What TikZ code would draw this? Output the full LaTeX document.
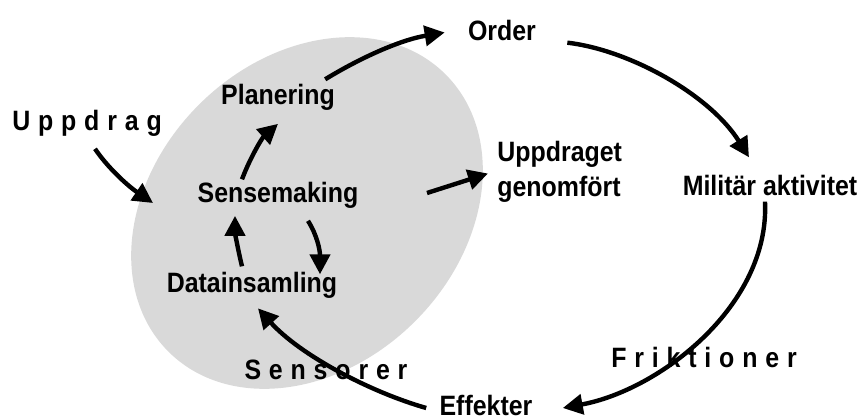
\documentclass[tikz,border=0pt]{standalone}
\usepackage{fontspec}
\setmainfont{Liberation Sans}[FakeStretch=0.89]
\newfontfamily\spacedfont{Liberation Sans}[FakeStretch=0.89,LetterSpace=28]
\usetikzlibrary{arrows.meta, shapes.geometric}
\tikzstyle{term} = [font=\fontsize{14}{17.5}\selectfont\bfseries, inner sep=0pt, anchor=base]
\tikzstyle{spacedterm} = [font=\spacedfont\fontsize{14}{17.5}\selectfont\bfseries, inner sep=0pt, anchor=base]
\tikzstyle{arrow} = [line width=2.2pt, -{Triangle[length=10pt,width=10pt]}]

\begin{document}
\begin{tikzpicture}[x=0.5pt, y=-0.5pt]
\useasboundingbox (0,0) rectangle (864,418);

% grey blob behind the inner loop
\fill[black!15] (307,213) circle[x radius=196, y radius=153, rotate=45];

\node (order) [term] at (502,40) {Order};
\node (upp) [spacedterm] at (87,130) {Uppdrag};
\node (plan) [term] at (278,104) {Planering};
\node (sense) [term] at (278,202) {Sensemaking};
\node (data) [term] at (252,292) {Datainsamling};
\node (done) [term, align=left, anchor=west] at (497,172) {Uppdraget\\genomfört};
\node (mil) [term] at (770,195) {Militär aktivitet};
\node (eff) [term] at (486,415) {Effekter};
\node (sens) [spacedterm] at (326,379) {Sensorer};
\node (frik) [spacedterm] at (704,367) {Friktioner};

\coordinate (in) at (153,203);
\coordinate (out) at (427,193);

% outer loop
\draw [arrow] ([shift={(8,12.5)}]upp.south) .. controls (108,168) and (128,186) .. (in);
\draw [arrow] ([shift={(-10,-4)}]plan.north east) .. controls (360,58) and (400,40) .. ([shift={(-23,2.5)}]order.west);
\draw [arrow] ([shift={(31,2)}]order.south east) .. controls (630,50) and (710,95) .. ([shift={(-21,-17)}]mil.north);
\draw [arrow] ([shift={(-5,6)}]mil.south) .. controls (770,305) and (660,390) .. ([shift={(30,3)}]eff.east);
\draw [arrow] ([shift={(-13,3)}]eff.west) .. controls (370,392) and (300,355) .. ([shift={(6,10)}]data.south);
\draw [arrow] (out) -- ([shift={(-9,1.5)}]done.west);

% inner loop
\draw [arrow] ([shift={(-36,-2)}]sense.north) .. controls (250,158) and (262,138) .. ([shift={(0,13.5)}]plan.south);
\draw [arrow] ([shift={(-10,-5)}]data.north) .. controls (238,250) and (235,232) .. ([shift={(-43,7.5)}]sense.south);
\draw [arrow] ([shift={(30,12.5)}]sense.south) .. controls (317,235) and (320,250) .. ([shift={(68,3)}]data.north);

\end{tikzpicture}
\end{document}
